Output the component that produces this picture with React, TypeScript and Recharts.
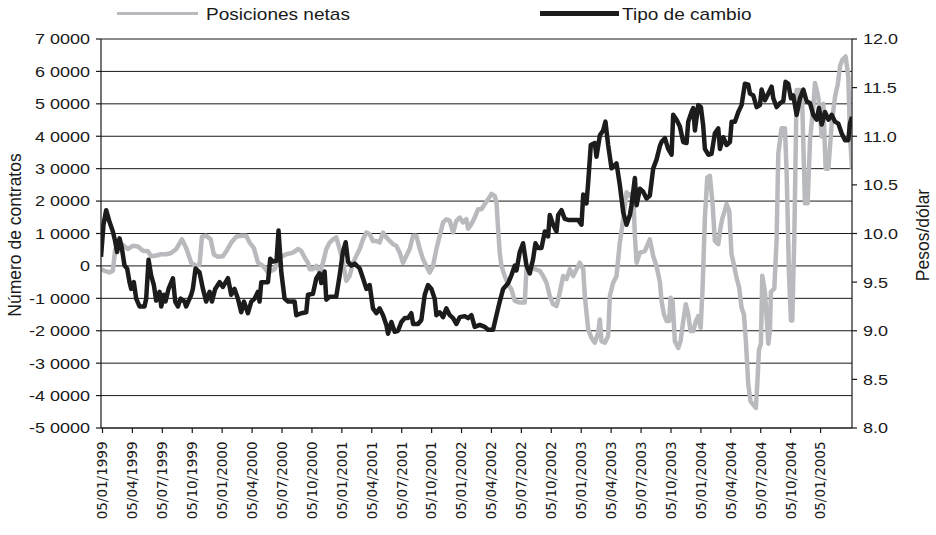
import React from 'react';
import { LineChart, Line, XAxis, YAxis, CartesianGrid, Legend } from 'recharts';

// ---------- data ----------
// x position: months elapsed since 05/01/1999
const quarterTicks = [0, 3, 6, 9, 12, 15, 18, 21, 24, 27, 30, 33, 36, 39, 42, 45, 48, 51, 54, 57, 60, 63, 66, 69, 72];
const quarterLabels = [
  '05/01/1999', '05/04/1999', '05/07/1999', '05/10/1999',
  '05/01/2000', '05/04/2000', '05/07/2000', '05/10/2000',
  '05/01/2001', '05/04/2001', '05/07/2001', '05/10/2001',
  '05/01/2002', '05/04/2002', '05/07/2002', '05/10/2002',
  '05/01/2003', '05/04/2003', '05/07/2003', '05/10/2003',
  '05/01/2004', '05/04/2004', '05/07/2004', '05/10/2004',
  '05/01/2005',
];
const contractTicks = [-50000, -40000, -30000, -20000, -10000, 0, 10000, 20000, 30000, 40000, 50000, 60000, 70000];
const pesoTicks = [8, 8.5, 9, 9.5, 10, 10.5, 11, 11.5, 12];
const seriesNames = ['Posiciones netas', 'Tipo de cambio'];

// [month, contracts]
const netPositions: [number, number][] = [
  [-0.15, -1000], [0.2, -1500], [0.7, -2000], [1.04, -1500], [1.27, 5000], [1.54, 6700], [2.04, 6500],
  [2.54, 5200], [3.04, 6200], [3.55, 6000], [4.05, 4700], [4.55, 4500], [4.88, 3000], [5.38, 3200],
  [5.89, 3600], [6.39, 3600], [6.89, 4000], [7.39, 5200], [7.96, 8200], [8.39, 5500], [8.9, 1000],
  [9.4, 0], [9.73, 500], [9.97, 9000], [10.4, 9300], [10.84, 8200], [11.17, 3500], [11.57, 2800],
  [12.07, 3000], [12.51, 5000], [12.91, 7200], [13.41, 9000], [13.91, 9300], [14.41, 9300], [14.75, 7200],
  [15.18, 5500], [15.59, 1000], [16.09, 0], [16.59, -2000], [17.26, -1000], [17.76, 2500], [18.09, 3100],
  [18.43, 3600], [19.1, 4100], [19.6, 5200], [19.93, 4600], [20.27, 2600], [20.6, 1000], [20.77, -1000],
  [21.1, -1000], [21.44, 0], [21.77, -2000], [22.11, 1000], [22.44, 5200], [22.78, 7200], [23.11, 8200],
  [23.44, 8800], [23.78, 5200], [24.11, 1000], [24.45, -4600], [24.78, -3100], [25.12, 1000], [25.45, 3100],
  [25.79, 5200], [26.12, 8200], [26.46, 10300], [26.79, 9800], [27.12, 7700], [27.46, 7700], [27.79, 7200],
  [28.13, 10300], [28.46, 8800], [28.8, 7700], [29.13, 6700], [29.46, 6200], [29.8, 4100], [30.13, 1000],
  [30.47, 3100], [30.8, 5200], [31.14, 9300], [31.47, 9300], [31.81, 5200], [32.14, 2100], [32.47, 0],
  [32.81, -2000], [33.14, 0], [33.48, 5200], [33.81, 9300], [34.15, 13400], [34.48, 14400], [34.82, 13900],
  [35.15, 10300], [35.48, 13900], [35.82, 14900], [36.15, 13400], [36.49, 14400], [36.66, 11500],
  [36.99, 12900], [37.32, 14900], [37.66, 17500], [37.99, 17500], [38.33, 19100], [38.66, 20600],
  [39.0, 22200], [39.33, 21600], [39.5, 19600], [39.67, 11300], [39.83, 4100], [40.0, 0], [40.33, -3100],
  [40.67, -5700], [41.0, -7200], [41.34, -10800], [41.84, -11300], [42.34, -11300], [42.51, -1000],
  [42.84, 0], [43.34, -1000], [43.85, -1500], [44.18, -3100], [44.52, -5200], [44.85, -9300],
  [45.18, -11800], [45.52, -12400], [45.85, -8200], [46.19, -3100], [46.52, -4100], [46.86, -1000],
  [47.19, -3100], [47.53, -1000], [47.86, 1000], [48.2, -1000], [48.36, -9300], [48.7, -19600],
  [49.03, -22200], [49.36, -23700], [49.7, -20600], [49.87, -16500], [50.03, -23200], [50.37, -23700],
  [50.7, -21600], [50.87, -9300], [51.2, -5200], [51.54, -3100], [51.87, 7200], [52.21, 14400],
  [52.54, 22700], [52.88, 21600], [53.21, 22700], [53.38, 9300], [53.55, 1000], [53.88, 4100],
  [54.38, 4600], [54.88, 8200], [55.22, 3000], [55.55, 0], [55.89, -5000], [56.05, -10800],
  [56.29, -14900], [56.56, -17000], [56.82, -17000], [56.96, -9800], [57.16, -10800], [57.39, -23200],
  [57.73, -25300], [57.96, -23200], [58.23, -17000], [58.49, -11800], [58.73, -14900], [58.96, -20100],
  [59.23, -20100], [59.5, -17000], [59.73, -15500], [59.97, -19100], [60.17, -6700], [60.4, 14900],
  [60.64, 27300], [60.9, 27800], [61.17, 19100], [61.4, 7700], [61.74, 6700], [61.97, 11800],
  [62.17, 14900], [62.4, 17000], [62.57, 19100], [62.84, 17000], [63.07, 3600], [63.3, 500],
  [63.57, -3600], [63.84, -6700], [64.08, -12900], [64.31, -14900], [64.51, -23200], [64.75, -36600],
  [64.98, -41800], [65.25, -42800], [65.51, -43800], [65.66, -36000], [65.82, -26000], [66.02, -24000],
  [66.15, -3000], [66.42, -8000], [66.76, -24000], [66.92, -20000], [67.02, -8000], [67.36, -7000],
  [67.59, 8000], [67.76, 34700], [68.09, 42500], [68.43, 42500], [68.6, 28500], [68.83, -2500],
  [69.03, -16800], [69.16, -16800], [69.36, 8000], [69.6, 54300], [69.93, 54300], [70.17, 49000],
  [70.43, 19300], [70.7, 19300], [70.94, 38800], [71.27, 49100], [71.44, 56400], [71.77, 52200],
  [72.11, 39900], [72.27, 50000], [72.51, 30000], [72.78, 30000], [73.12, 44000], [73.45, 52200],
  [73.72, 56000], [73.95, 61600], [74.18, 63600], [74.51, 64600], [74.78, 58400], [74.94, 41000],
  [75.15, 30000],
];

// [month, pesos per dollar]
const exchangeRate: [number, number][] = [
  [-0.15, 9.76], [0.1, 10.09], [0.37, 10.24], [0.7, 10.12], [1.04, 10.02], [1.27, 9.92], [1.47, 9.81],
  [1.71, 9.95], [1.94, 9.85], [2.21, 9.67], [2.47, 9.64], [2.71, 9.5], [2.88, 9.43], [3.14, 9.5],
  [3.38, 9.33], [3.71, 9.25], [4.21, 9.25], [4.38, 9.33], [4.62, 9.73], [4.88, 9.57], [5.15, 9.47],
  [5.38, 9.31], [5.72, 9.4], [5.89, 9.25], [6.15, 9.37], [6.32, 9.3], [6.62, 9.43], [7.06, 9.54],
  [7.29, 9.3], [7.56, 9.25], [7.83, 9.33], [8.23, 9.3], [8.39, 9.25], [8.9, 9.37], [9.06, 9.43],
  [9.33, 9.64], [9.73, 9.6], [10.07, 9.43], [10.4, 9.3], [10.74, 9.4], [10.97, 9.3], [11.3, 9.43],
  [11.74, 9.5], [12.07, 9.45], [12.58, 9.54], [12.91, 9.37], [13.24, 9.43], [13.58, 9.33], [13.91, 9.19],
  [14.18, 9.3], [14.58, 9.18], [14.92, 9.3], [15.25, 9.33], [15.59, 9.4], [15.75, 9.3], [15.92, 9.5],
  [16.59, 9.5], [16.82, 9.74], [17.09, 9.71], [17.45, 9.72], [17.65, 10.03], [17.93, 9.6], [18.26, 9.33],
  [18.6, 9.3], [19.26, 9.3], [19.43, 9.16], [19.93, 9.18], [20.43, 9.19], [20.6, 9.37], [21.1, 9.38],
  [21.44, 9.54], [21.77, 9.59], [21.94, 9.49], [22.27, 9.61], [22.44, 9.32], [22.78, 9.35], [23.44, 9.35],
  [23.78, 9.57], [24.11, 9.81], [24.38, 9.91], [24.62, 9.71], [24.95, 9.67], [25.29, 9.69], [25.79, 9.64],
  [26.12, 9.54], [26.46, 9.43], [26.79, 9.47], [27.12, 9.23], [27.46, 9.18], [27.79, 9.23], [28.13, 9.16],
  [28.46, 9.06], [28.63, 8.97], [28.96, 9.09], [29.3, 8.99], [29.63, 9.0], [29.97, 9.09], [30.3, 9.13],
  [30.64, 9.13], [30.97, 9.18], [31.14, 9.07], [31.64, 9.07], [31.97, 9.11], [32.31, 9.37], [32.64, 9.47],
  [32.98, 9.43], [33.31, 9.33], [33.48, 9.16], [33.81, 9.19], [34.15, 9.14], [34.48, 9.23], [34.82, 9.16],
  [35.15, 9.13], [35.48, 9.07], [35.82, 9.14], [36.32, 9.15], [36.66, 9.13], [36.99, 9.16], [37.32, 9.04],
  [37.83, 9.06], [38.33, 9.04], [38.66, 9.01], [39.16, 9.01], [39.5, 9.16], [39.83, 9.3], [40.17, 9.43],
  [40.67, 9.49], [41.0, 9.57], [41.34, 9.67], [41.51, 9.62], [41.84, 9.81], [42.17, 9.9], [42.51, 9.67],
  [42.84, 9.59], [43.18, 9.74], [43.41, 9.9], [43.68, 9.85], [44.01, 9.85], [44.35, 10.02], [44.68, 9.97],
  [44.85, 10.19], [45.18, 10.09], [45.52, 10.02], [45.69, 10.19], [46.02, 10.24], [46.35, 10.15],
  [46.69, 10.14], [47.69, 10.14], [48.03, 10.09], [48.2, 10.4], [48.53, 10.31], [48.7, 10.53],
  [48.96, 10.91], [49.36, 10.93], [49.53, 10.79], [49.87, 11.01], [50.2, 11.06], [50.43, 11.15],
  [50.7, 10.91], [51.04, 10.67], [51.54, 10.72], [51.87, 10.5], [52.21, 10.22], [52.54, 10.09],
  [52.88, 10.19], [53.04, 10.29], [53.38, 10.57], [53.55, 10.29], [53.88, 10.46], [54.21, 10.43],
  [54.55, 10.36], [54.88, 10.39], [55.22, 10.67], [55.55, 10.76], [55.89, 10.9], [56.05, 10.94],
  [56.39, 10.98], [56.72, 10.87], [57.06, 10.81], [57.22, 11.22], [57.56, 11.17], [57.89, 11.1],
  [58.23, 10.94], [58.56, 10.93], [58.73, 11.15], [59.06, 11.25], [59.23, 11.29], [59.4, 11.06],
  [59.73, 11.32], [60.0, 11.3], [60.23, 11.11], [60.4, 10.87], [60.74, 10.81], [61.07, 10.82],
  [61.4, 11.03], [61.74, 11.08], [61.91, 10.87], [62.24, 10.99], [62.58, 10.91], [62.91, 10.94],
  [63.08, 11.15], [63.41, 11.15], [63.75, 11.25], [64.08, 11.32], [64.41, 11.54], [64.75, 11.53],
  [64.92, 11.44], [65.25, 11.42], [65.59, 11.3], [65.92, 11.32], [66.09, 11.48], [66.42, 11.37],
  [66.76, 11.44], [67.09, 11.51], [67.26, 11.39], [67.59, 11.3], [67.93, 11.34], [68.26, 11.36],
  [68.49, 11.56], [68.76, 11.54], [69.03, 11.39], [69.26, 11.42], [69.6, 11.22], [69.93, 11.39],
  [70.27, 11.48], [70.6, 11.36], [70.94, 11.34], [71.27, 11.22], [71.61, 11.17], [71.84, 11.29],
  [72.11, 11.12], [72.44, 11.25], [72.78, 11.17], [73.12, 11.22], [73.45, 11.15], [73.78, 11.13],
  [74.11, 11.03], [74.45, 10.96], [74.78, 10.96], [74.94, 11.13], [75.15, 11.2],
];

// ---------- table built from the arrays ----------
type Row = { m: number; net?: number; fx?: number };
const rows: Row[] = (() => {
  const map = new Map<number, Row>();
  netPositions.forEach(([m, v]) => {
    const r = map.get(m) ?? { m };
    r.net = v;
    map.set(m, r);
  });
  exchangeRate.forEach(([m, v]) => {
    const r = map.get(m) ?? { m };
    r.fx = v;
    map.set(m, r);
  });
  return Array.from(map.values()).sort((a, b) => a.m - b.m);
})();

// ---------- styles ----------
const FONT = '"Liberation Sans", Arial, Helvetica, sans-serif';
const TEXT = '#1a1a1a';
const GRAY = '#b9babd';
const BLACK = '#1c1c1c';
const AXIS = '#1a1a1a';

const fmtContracts = (v: number) => (v === 0 ? '0' : `${v < 0 ? '-' : ''}${Math.abs(v) / 10000} 0000`);

const LeftTick = (props: any) => {
  const { x, y, payload } = props;
  return (
    <text
      x={x}
      y={y}
      dy="0.36em"
      textAnchor="end"
      fontSize={15}
      fontFamily={FONT}
      fill={TEXT}
      transform={`translate(${x},0) scale(1.2,1) translate(${-x},0)`}
    >
      {fmtContracts(payload.value)}
    </text>
  );
};

const RightTick = (props: any) => {
  const { x, y, payload } = props;
  return (
    <text
      x={x}
      y={y}
      dy="0.36em"
      textAnchor="start"
      fontSize={15}
      fontFamily={FONT}
      fill={TEXT}
      transform={`translate(${x},0) scale(1.2,1) translate(${-x},0)`}
    >
      {Number(payload.value).toFixed(1)}
    </text>
  );
};

const DateTick = (props: any) => {
  const { x, y, payload } = props;
  const i = quarterTicks.indexOf(payload.value);
  return (
    <text
      x={x}
      y={y}
      dy="0.36em"
      textAnchor="end"
      fontSize={13.5}
      fontFamily='"DejaVu Sans", sans-serif'
      fill={TEXT}
      transform={`rotate(-90, ${x}, ${y})`}
    >
      {i >= 0 ? quarterLabels[i] : ''}
    </text>
  );
};

const AxisTitle = (props: any) => {
  const { tx, ty, text } = props;
  return (
    <text
      x={tx}
      y={ty}
      dy="0.36em"
      textAnchor="middle"
      fontSize={17.5}
      fontFamily={FONT}
      fill={TEXT}
      transform={`rotate(-90, ${tx}, ${ty})`}
    >
      {text}
    </text>
  );
};

const legendText: React.CSSProperties = {
  position: 'absolute',
  top: 5,
  lineHeight: '20px',
  whiteSpace: 'nowrap',
  transform: 'scaleX(1.12)',
  transformOrigin: 'left center',
};

const LegendContent = () => (
  <div style={{ position: 'relative', width: 936, height: 30, fontFamily: FONT, fontSize: 17, color: TEXT }}>
    <div style={{ position: 'absolute', left: 117, top: 12, width: 81, height: 3, background: GRAY }} />
    <div style={{ ...legendText, left: 206 }}>{seriesNames[0]}</div>
    <div style={{ position: 'absolute', left: 540, top: 11, width: 79, height: 5, background: BLACK }} />
    <div style={{ ...legendText, left: 622 }}>{seriesNames[1]}</div>
  </div>
);

export default function App() {
  return (
    <div style={{ position: 'absolute', left: 0, top: 0, width: 936, height: 535, background: '#fff' }}>
      <LineChart width={936} height={535} data={rows} margin={{ top: 39, right: 0, bottom: 0, left: 0 }}>
        <CartesianGrid yAxisId="left" vertical={false} stroke={AXIS} strokeWidth={1} />
        <XAxis
          dataKey="m"
          type="number"
          domain={[-0.15, 75.15]}
          allowDataOverflow
          ticks={quarterTicks}
          interval={0}
          tick={<DateTick />}
          tickSize={5}
          tickMargin={8.5}
          height={107}
          axisLine={{ stroke: AXIS, strokeWidth: 1.2 }}
          tickLine={{ stroke: AXIS, strokeWidth: 1.2 }}
        />
        <YAxis
          yAxisId="left"
          orientation="left"
          domain={[-50000, 70000]}
          ticks={contractTicks}
          interval={0}
          width={101}
          tick={<LeftTick />}
          tickSize={5}
          tickMargin={6}
          axisLine={{ stroke: AXIS, strokeWidth: 1.2 }}
          tickLine={{ stroke: AXIS, strokeWidth: 1.2 }}
          label={<AxisTitle tx={15} ty={235} text="Número de contratos" />}
        />
        <YAxis
          yAxisId="right"
          orientation="right"
          domain={[8, 12]}
          ticks={pesoTicks}
          interval={0}
          width={84}
          tick={<RightTick />}
          tickSize={5}
          tickMargin={6}
          axisLine={{ stroke: AXIS, strokeWidth: 1.2 }}
          tickLine={{ stroke: AXIS, strokeWidth: 1.2 }}
          label={<AxisTitle tx={923} ty={235} text="Pesos/dólar" />}
        />
        <Legend
          verticalAlign="middle"
          align="center"
          layout="horizontal"
          content={<LegendContent />}
          wrapperStyle={{ position: 'absolute', top: 0, left: 0, width: 936, height: 30, margin: 0, padding: 0 }}
        />
        <Line
          yAxisId="left"
          type="linear"
          dataKey="net"
          name={seriesNames[0]}
          stroke={GRAY}
          strokeWidth={4.5}
          strokeLinejoin="round"
          dot={false}
          activeDot={false}
          connectNulls
          isAnimationActive={false}
        />
        <Line
          yAxisId="right"
          type="linear"
          dataKey="fx"
          name={seriesNames[1]}
          stroke={BLACK}
          strokeWidth={4.5}
          strokeLinejoin="round"
          dot={false}
          activeDot={false}
          connectNulls
          isAnimationActive={false}
        />
      </LineChart>
    </div>
  );
}
